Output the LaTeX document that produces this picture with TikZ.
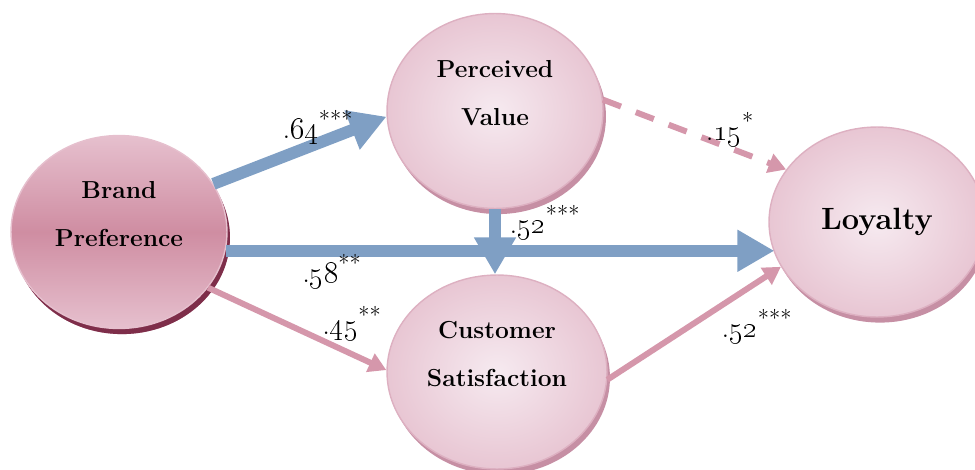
\documentclass[tikz,border=0pt]{standalone}
\usetikzlibrary{shapes.geometric,arrows.meta,shadows}

\definecolor{pathblue}{HTML}{7F9FC4}
\definecolor{pathpink}{HTML}{D597AB}
\definecolor{roseface}{HTML}{F6EAF0}
\definecolor{roseout}{HTML}{E8C6D3}
\definecolor{roseedge}{HTML}{DDB0C1}
\definecolor{roserim}{HTML}{C68FA4}
\definecolor{brandmid}{HTML}{CF8DA2}
\definecolor{brandtop}{HTML}{E6C0CE}
\definecolor{brandrim}{HTML}{7E2E4A}

\newcommand{\twolines}[2]{\raisebox{5pt}[0pt][0pt]{\begin{tabular}{@{}c@{}}#1\\[11pt]#2\end{tabular}}}
\newcommand{\coefval}[2]{.\oldstylenums{#1}\textsuperscript{\fontsize{13}{13}\selectfont#2}}

\begin{document}
\begin{tikzpicture}[x=0.02cm, y=-0.02cm,
        factor/.style={ellipse, draw=roseedge, line width=0.8pt, inner sep=0pt,
            minimum width=4.32cm, minimum height=3.9cm,
            inner color=roseface, outer color=roseout,
            font=\bfseries\fontsize{14}{16}\selectfont,
            general shadow={fill=roserim, shadow xshift=1.7pt, shadow yshift=-3.2pt}},
        bigpath/.style={draw=pathblue, line width=6.8pt,
            -{Triangle[width=22.5pt,length=21pt]}},
        smallpath/.style={draw=pathpink, line width=3.4pt,
            -{Triangle[width=11pt,length=10pt]}},
        coef/.style={font=\fontsize{17.5}{20}\selectfont, inner sep=1pt}]
    \useasboundingbox (0,0) rectangle (975,470);
    \clip (0,0) rectangle (975,470);

    \node[factor, draw=brandtop, top color=brandtop, bottom color=brandtop, middle color=brandmid,
        general shadow={fill=brandrim, shadow xshift=1.7pt, shadow yshift=-3.2pt},
        minimum height=3.86cm] (bp) at (119,232) {\twolines{Brand}{Preference}};
    \node[factor] (pv) at (495,111) {\twolines{Perceived}{Value}};
    \node[factor, minimum width=4.4cm, minimum height=3.88cm] (cs) at (497,372) {\twolines{Customer}{Satisfaction}};
    \node[factor, minimum height=3.8cm, font=\bfseries\fontsize{17.5}{20}\selectfont] (loy) at (877,222) {Loyalty};

    \draw[bigpath] (bp.27) -- (pv.183);
    \draw[bigpath] (bp.-10) -- (bp.-10 -| loy.197);
    \draw[bigpath] (pv.south) -- (pv.south |- cs.north);
    \draw[smallpath] (bp.-32) -- (cs.179);
    \draw[smallpath] (cs.-4) -- (loy.205);
    \draw[smallpath, dash pattern=on 11pt off 9pt] (pv.6) -- (loy.150);

    \node[coef] (c64) at (318,127) {\coefval{64}{***}};
    \node[coef] (c52a) at (545,222) {\coefval{52}{***}};
    \node[coef] (c58) at (332,271) {\coefval{58}{**}};
    \node[coef] (c45) at (352,323) {\coefval{45}{**}};
    \node[coef] (c15) at (730,129) {\coefval{15}{*}};
    \node[coef] (c52b) at (757,326) {\coefval{52}{***}};
\end{tikzpicture}
\end{document}
